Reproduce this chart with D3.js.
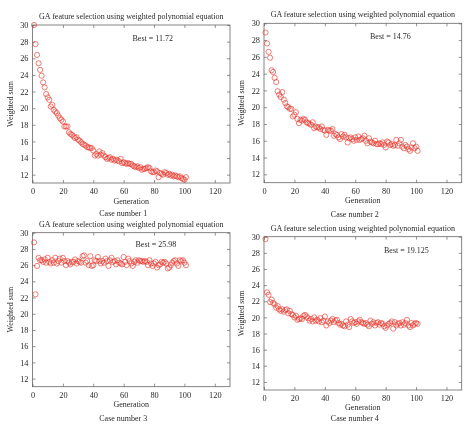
<!DOCTYPE html>
<html>
<head>
<meta charset="utf-8">
<script src="https://cdn.jsdelivr.net/npm/d3@7"></script>
<style>
  body { margin: 0; background: #fff; }
  svg { will-change: transform; }
  text { font-family: "Liberation Serif", "Times New Roman", serif; fill: #2a2a2a; }
</style>
</head>
<body>
<svg id="chart" width="467" height="425"></svg>
<script>
// Weighted sum per generation (generations 1..101), one array per case
const case1 = [30.0,27.7,26.4,25.4,24.6,23.9,23.1,22.5,21.7,21.3,21.0,20.2,20.4,19.8,19.6,19.4,19.1,18.8,18.6,18.4,
  17.8,17.8,17.8,17.1,16.9,16.8,16.6,16.4,16.5,16.2,16.1,15.9,15.7,15.6,15.5,15.3,15.3,15.2,15.2,14.9,
  14.3,14.5,14.3,14.8,14.4,14.6,14.3,14.1,13.9,14.0,14.1,13.8,13.9,13.7,13.8,13.7,13.6,13.9,13.4,13.5,
  13.4,13.3,13.4,13.3,13.3,13.1,13.0,12.9,13.0,12.8,12.9,12.6,12.7,12.7,12.8,12.9,12.8,12.4,12.3,12.3,
  12.5,12.4,11.7,12.2,12.1,12.0,12.3,12.2,12.0,12.1,11.9,12.0,11.8,11.9,11.8,11.7,11.8,11.6,11.5,11.4,11.7];
const case2 = [28.9,27.6,26.6,25.9,24.4,24.2,23.5,23.0,21.9,21.5,21.2,21.8,20.9,20.5,20.1,20.0,19.8,19.8,18.9,19.1,
  19.4,18.6,18.1,18.5,18.4,18.6,18.5,18.2,18.1,18.0,17.9,18.2,17.5,17.7,17.6,17.6,17.4,17.7,17.3,17.2,
  16.7,17.3,17.2,17.2,17.4,16.6,16.8,16.7,16.4,16.2,16.8,16.5,16.7,16.4,15.8,16.3,16.4,16.2,16.0,16.4,
  16.1,16.5,16.1,16.2,16.3,16.6,16.0,15.7,16.3,15.9,15.8,15.7,16.0,15.6,15.6,15.7,15.6,15.8,15.5,15.2,
  15.9,15.8,15.5,15.6,15.4,15.5,16.1,15.4,15.7,16.1,15.3,15.1,15.5,15.3,15.0,14.8,15.2,15.7,15.1,15.3,14.8];
const case3 = [28.8,22.4,25.9,26.9,26.6,26.6,26.4,26.7,26.3,26.9,26.4,26.2,26.6,26.3,26.9,26.2,26.5,26.8,26.3,26.9,
  26.5,26.0,26.5,26.3,26.1,26.4,26.4,26.7,26.2,26.5,26.4,26.3,27.1,27.2,26.3,26.5,26.0,27.1,25.9,26.0,
  26.6,26.5,27.0,26.5,26.2,26.5,26.3,26.8,26.5,25.9,26.6,26.9,26.4,26.5,26.1,26.6,26.3,26.2,26.1,27.0,
  26.4,26.0,26.8,26.5,26.2,25.9,26.4,26.6,26.3,26.6,26.5,26.5,26.4,26.5,26.4,26.0,26.6,26.2,25.9,26.2,
  26.4,25.7,26.0,26.1,26.4,26.3,26.4,26.2,25.6,25.7,26.0,26.3,26.5,26.6,26.2,25.9,26.6,26.5,26.6,26.3,26.0];
const case4 = [29.7,23.1,22.8,21.9,22.2,21.8,21.6,21.2,21.4,21.0,20.8,21.0,20.7,20.9,21.0,20.5,20.8,20.4,20.3,20.0,
  20.2,19.7,19.8,19.9,19.8,20.2,20.3,20.1,19.9,19.6,19.8,19.5,20.0,19.6,19.7,19.5,19.9,19.4,19.6,20.1,
  19.0,19.5,19.3,19.6,19.8,19.4,19.6,19.7,19.3,19.1,19.2,19.0,18.9,19.5,19.1,18.8,19.8,19.5,19.3,19.4,
  19.2,19.5,19.7,19.4,19.3,19.2,19.3,19.1,18.9,19.6,19.2,19.4,19.0,19.3,19.4,19.1,19.3,19.2,18.9,18.7,
  19.0,19.2,19.3,19.5,18.6,19.4,19.0,19.2,19.3,19.0,19.4,19.1,19.3,19.7,19.0,18.8,19.3,19.0,19.2,19.3,19.2];

const bestLabels = ["Best = 11.72", "Best = 14.76", "Best = 25.98", "Best = 19.125"];
const captions = ["Case number 1", "Case number 2", "Case number 3", "Case number 4"];
const xTicks = [0, 20, 40, 60, 80, 100, 120];
const yTicks = [12, 14, 16, 18, 20, 22, 24, 26, 28, 30];
const titleText = "GA feature selection using weighted polynomial equation";

// plot boxes in pixels + where the "Best" note sits (offset from box top-left)
const panels = [
  { data: case1, left: 32.5, right: 230, top: 25, bottom: 183, bestX: 100, bestY: 13, capY: 213 },
  { data: case2, left: 264, right: 461.7, top: 23.3, bottom: 182.7, bestX: 106, bestY: 13, capY: 214.7 },
  { data: case3, left: 32.5, right: 230, top: 232.7, bottom: 386.7, bestX: 103, bestY: 11.5, capY: 419 },
  { data: case4, left: 264, right: 461.7, top: 236.7, bottom: 390, bestX: 120, bestY: 13.5, capY: 419 }
];

const svg = d3.select("#chart");

panels.forEach((p, i) => {
  const w = p.right - p.left;
  const h = p.bottom - p.top;

  const x = d3.scaleLinear().domain([0, 130]).range([0, w]);
  const y = d3.scaleLinear().domain([11, 30]).range([h, 0]);

  const g = svg.append("g").attr("transform", `translate(${p.left},${p.top})`);

  // inward ticks on all four sides (matlab-ish box)
  const tick = 3;
  g.append("g").attr("transform", `translate(0,${h})`)
    .call(d3.axisBottom(x).tickValues(xTicks).tickSizeInner(-tick).tickSizeOuter(0).tickPadding(5));
  g.append("g")
    .call(d3.axisTop(x).tickValues(xTicks).tickSizeInner(-tick).tickSizeOuter(0).tickFormat(""));
  g.append("g")
    .call(d3.axisLeft(y).tickValues(yTicks).tickSizeInner(-tick).tickSizeOuter(0).tickPadding(4));
  g.append("g").attr("transform", `translate(${w},0)`)
    .call(d3.axisRight(y).tickValues(yTicks).tickSizeInner(-tick).tickSizeOuter(0).tickFormat(""));

  g.selectAll(".domain").remove();
  g.selectAll(".tick line").attr("stroke", "#666").attr("stroke-width", 0.7);
  g.selectAll(".tick text")
    .style("font-family", '"Liberation Serif", serif')
    .style("font-size", "8.3px")
    .attr("fill", "#2a2a2a");

  g.append("rect")
    .attr("width", w).attr("height", h)
    .attr("fill", "none").attr("stroke", "#666").attr("stroke-width", 0.8);

  // the markers
  g.selectAll("circle")
    .data(p.data)
    .join("circle")
    .attr("cx", (d, k) => x(k + 1))
    .attr("cy", d => y(d))
    .attr("r", 2.6)
    .attr("fill", "none")
    .attr("stroke", "#e8392e")
    .attr("stroke-width", 0.65);

  g.append("text")
    .attr("x", w / 2).attr("y", -6)
    .attr("text-anchor", "middle")
    .style("font-size", "8px")
    .text(titleText);

  g.append("text")
    .attr("x", p.bestX).attr("y", p.bestY)
    .attr("dominant-baseline", "central")
    .style("font-size", "8px")
    .text(bestLabels[i]);

  g.append("text")
    .attr("transform", `translate(${-20},${h / 2}) rotate(-90)`)
    .attr("text-anchor", "middle")
    .style("font-size", "8px")
    .text("Weighted sum");

  g.append("text")
    .attr("x", w / 2).attr("y", h + 18)
    .attr("text-anchor", "middle")
    .attr("dominant-baseline", "central")
    .style("font-size", "8px")
    .text("Generation");

  g.append("text")
    .attr("x", w / 2 - 8).attr("y", p.capY - p.top)
    .attr("text-anchor", "middle")
    .attr("dominant-baseline", "central")
    .style("font-size", "8px")
    .text(captions[i]);
});
</script>
</body>
</html>
